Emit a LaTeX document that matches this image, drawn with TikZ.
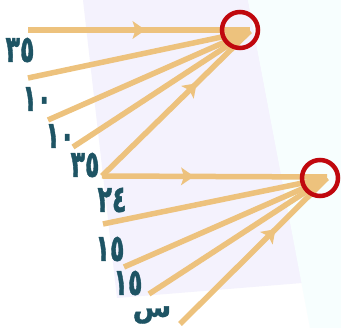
\documentclass[tikz,border=0pt]{standalone}
\usepackage{fontspec}
\usepackage{graphicx}
\usetikzlibrary{arrows.meta}
\newfontfamily\digfont[FakeBold=1.5]{DejaVu Sans Bold}
\newfontfamily\arabicfont[Script=Arabic,FakeBold=1.5]{DejaVu Sans Bold}
\newcommand\talltext[1]{\scalebox{0.95}[1.5]{#1}}
\definecolor{ray}{RGB}{237,194,125}
\definecolor{ringred}{RGB}{192,8,14}
\definecolor{lbl}{RGB}{30,84,100}
\definecolor{lav}{RGB}{244,242,253}
\definecolor{cyanbg}{RGB}{247,254,254}
\tikzset{
  rayline/.style={draw=ray,line width=5.5pt},
  headpic/.pic={\fill[ray] (2pt,0pt) -- (-11pt,9pt) -- (-8pt,0pt) -- (-11pt,-9pt) -- cycle;},
  ring/.style={draw=ringred,line width=4.5pt,circle,minimum size=36pt,inner sep=0pt},
  lab/.style={text=lbl,font=\digfont\fontsize{25}{25}\selectfont,inner sep=0pt}
}
\begin{document}
\begin{tikzpicture}[x=1pt,y=-1pt]
\useasboundingbox (0,0) rectangle (341,328);
\fill[white] (0,0) rectangle (341,328);
\fill[lav] (83,0) -- (248,0) -- (302,283) -- (117,298) -- cycle;
\fill[cyanbg] (248,0) -- (341,0) -- (341,328) -- (310,328) -- cycle;
% points
\coordinate (P1) at (250,31);
\coordinate (P2) at (327,178);
\coordinate (a1) at (28,30);
\coordinate (a1e) at (250,30);
\coordinate (a2) at (28,78);
\coordinate (a3) at (48,120);
\coordinate (a4) at (73,147);
\coordinate (V) at (102,176);
\coordinate (b1e) at (327,177);
\coordinate (b2) at (103,224);
\coordinate (b3) at (124,267);
\coordinate (b4) at (149,294);
\coordinate (b5) at (180,324);
% rays top
\draw[rayline] (a1) -- (a1e) pic[pos=0.52,sloped]{headpic};
\draw[rayline] (a2) -- (P1);
\draw[rayline] (a3) -- (P1);
\draw[rayline] (a4) -- (P1);
\draw[rayline] (V) -- (P1) pic[pos=0.63,sloped]{headpic};
% rays bottom
\draw[rayline] (V) -- (b1e) pic[pos=0.40,sloped]{headpic};
\draw[rayline] (b2) -- (P2);
\draw[rayline] (b3) -- (P2);
\draw[rayline] (b4) -- (P2);
\draw[rayline] (b5) -- (P2) pic[pos=0.64,sloped]{headpic};
% rings
\node[ring] (r1) at (240,30) {};
\node[ring] (r2) at (320,178) {};
% labels
\node[lab] (l1) at (20,50) {\talltext{٣٥}};
\node[lab] (l2) at (37,99) {\talltext{١٠}};
\node[lab] (l3) at (60,136) {\talltext{١٠}};
\node[lab] (l4) at (85,165) {\talltext{٣٥}};
\node[lab] (l5) at (112,200) {\talltext{٢٤}};
\node[lab] (l6) at (110,249) {\talltext{١٥}};
\node[lab] (l7) at (128,283) {\talltext{١٥}};
\node[lab,font=\arabicfont\fontsize{28}{28}\selectfont] (l8) at (152,315) {س};
\end{tikzpicture}
\end{document}
